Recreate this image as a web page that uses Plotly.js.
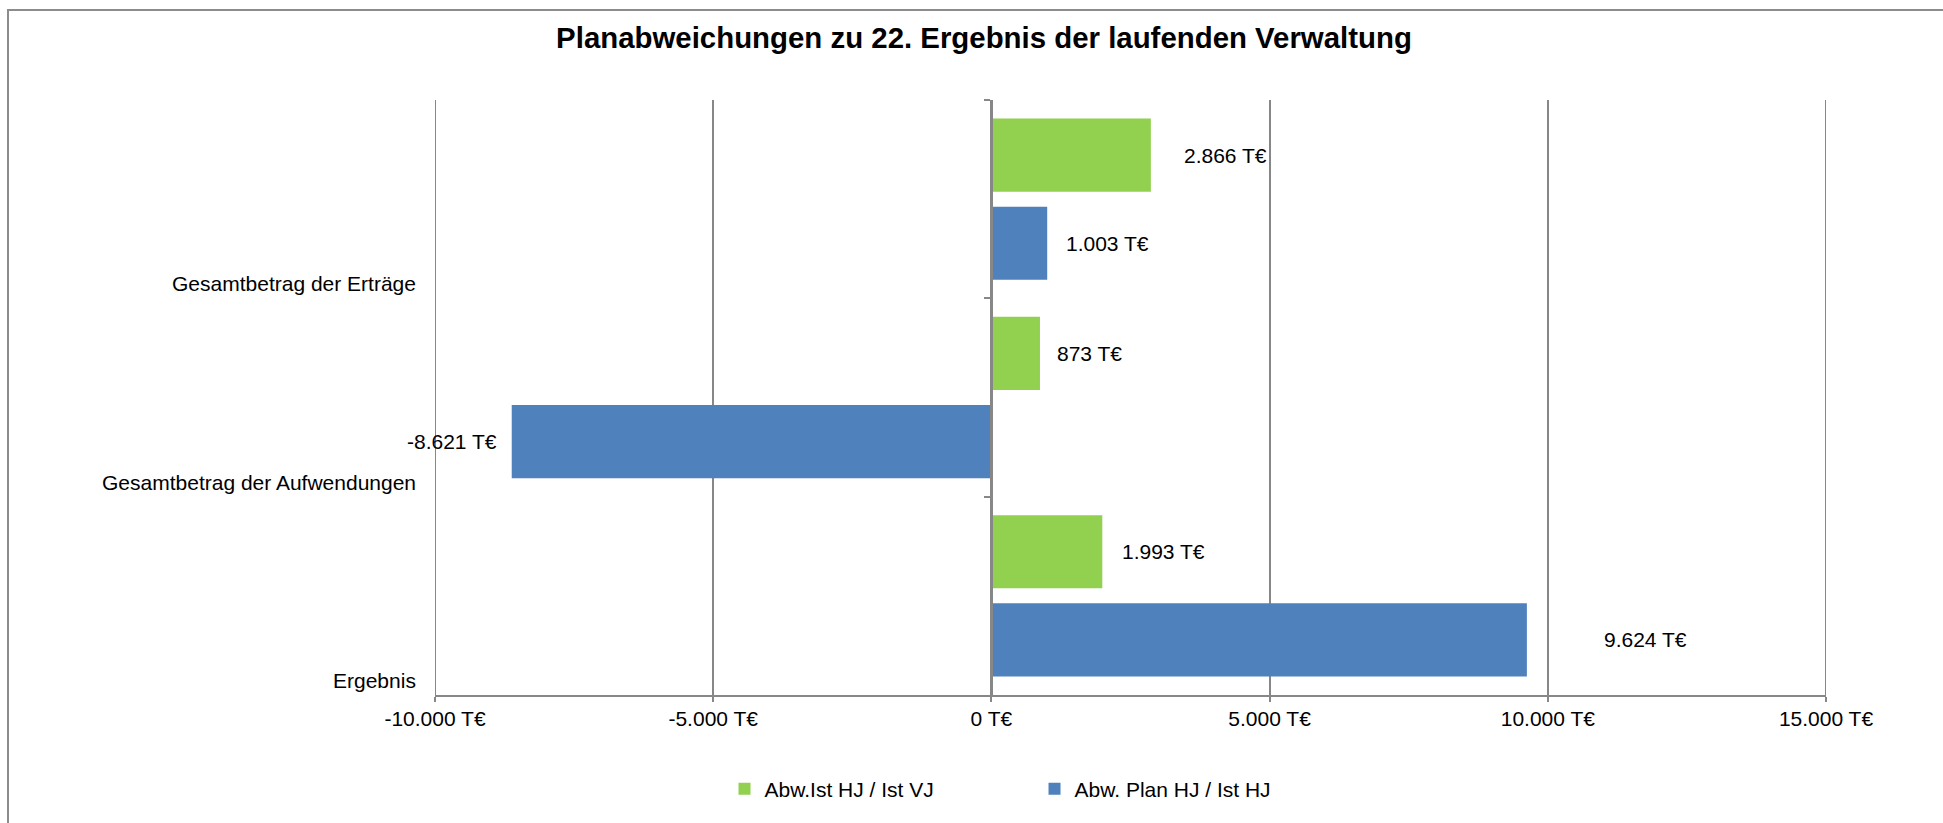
<!DOCTYPE html>
<html>
<head>
<meta charset="utf-8">
<script src="https://cdn.plot.ly/plotly-3.0.1.min.js"></script>
<style>
  html, body { margin: 0; padding: 0; background: #ffffff; overflow: hidden; }
  #chart { position: absolute; left: 0; top: 0; width: 1943px; height: 823px; }
  #frame { position: absolute; left: 7px; top: 9px; width: 2000px; height: 900px;
           border-top: 2px solid #8c8c8c; border-left: 2px solid #8c8c8c; pointer-events: none; }
</style>
</head>
<body>
<div id="chart"></div>
<div id="frame"></div>
<script>
// ---- data ----
const categories = ["Gesamtbetrag der Erträge", "Gesamtbetrag der Aufwendungen", "Ergebnis"];
const seriesNames = ["Abw.Ist HJ / Ist VJ", "Abw. Plan HJ / Ist HJ"];
const istVsVorjahr = [2866, 873, 1993];
const planVsIst = [1003, -8621, 9624];
const tickValues = [-10000, -5000, 0, 5000, 10000, 15000];
const tickLabels = ["-10.000 T€", "-5.000 T€", "0 T€", "5.000 T€", "10.000 T€", "15.000 T€"];

// ---- style ----
const colors = ["#92D050", "#4F81BD"];
const gridColor = "#878787";
const labelGapGreen = [31, 15, 18];
const labelGapBlue = [17, 13, 75];
const FONT = "Liberation Sans, Arial, sans-serif";
const W = 1943, H = 823;
const margin = {l: 435, r: 117, t: 100, b: 128};
const bargap = 0.111;

function fmt(v) {
  const s = Math.abs(v).toString().replace(/\B(?=(\d{3})+(?!\d))/g, ".");
  return (v < 0 ? "-" : "") + s + " T€";
}

const traces = [
  {type: "bar", orientation: "h", name: seriesNames[0], y: categories, x: istVsVorjahr,
   marker: {color: colors[0]}, hoverinfo: "x"},
  {type: "bar", orientation: "h", name: seriesNames[1], y: categories, x: planVsIst,
   marker: {color: colors[1]}, hoverinfo: "x"}
];

const plotH = H - margin.t - margin.b;
const band = plotH / categories.length;
const slotShift = band * (1 - bargap) / 4;

const annotations = [];
categories.forEach((c, i) => {
  annotations.push({xref: "paper", yref: "y", x: 0, y: c, xanchor: "right", yanchor: "middle",
    xshift: -17, yshift: -band / 2 + 14.5, text: c, showarrow: false,
    font: {family: FONT, size: 21, color: "#000000"}});
});
[istVsVorjahr, planVsIst].forEach((arr, s) => {
  const gaps = s === 0 ? labelGapGreen : labelGapBlue;
  arr.forEach((v, i) => {
    annotations.push({xref: "x", yref: "y", x: v, y: categories[i],
      xanchor: v < 0 ? "right" : "left", yanchor: "middle",
      xshift: v < 0 ? -gaps[i] : gaps[i], yshift: s === 0 ? slotShift : -slotShift,
      text: fmt(v), showarrow: false, font: {family: FONT, size: 21, color: "#000000"}});
  });
});

// edge gridlines (Plotly omits gridlines at the range boundaries)
const edgeTicks = [tickValues[0], tickValues[tickValues.length - 1]];
const shapes = edgeTicks.map(v => ({type: "line", xref: "x", yref: "paper", x0: v, x1: v, y0: 0, y1: 1,
  layer: "below", line: {color: gridColor, width: 2}}));

const layout = {
  width: W, height: H,
  margin: margin,
  paper_bgcolor: "#ffffff", plot_bgcolor: "#ffffff",
  font: {family: FONT, size: 21, color: "#000000"},
  title: {text: "<b>Planabweichungen zu 22. Ergebnis der laufenden Verwaltung</b>",
          xref: "container", x: 984 / W, xanchor: "center",
          yref: "container", y: 1 - 38 / H, yanchor: "middle",
          font: {family: FONT, size: 29.4, color: "#000000"}},
  barmode: "group", bargap: bargap, bargroupgap: 0.17,
  showlegend: true,
  legend: {orientation: "h", x: 0.431, xanchor: "center", y: -0.158, yanchor: "middle",
           font: {family: FONT, size: 21, color: "#000000"}, entrywidth: 265, traceorder: "normal"},
  xaxis: {range: [-10000, 15000], tickvals: tickValues, ticktext: tickLabels,
          showgrid: true, gridcolor: gridColor, gridwidth: 2, zeroline: false,
          showline: true, linecolor: gridColor, linewidth: 2,
          ticks: "outside", ticklen: 5, tickwidth: 2, tickcolor: gridColor,
          ticklabelstandoff: -1,
          tickfont: {family: FONT, size: 21, color: "#000000"}, fixedrange: true},
  yaxis: {type: "category", categoryorder: "array", categoryarray: categories,
          range: [2.5, -0.5], anchor: "free", position: 0.4,
          showgrid: false, zeroline: false, showline: true, linecolor: gridColor, linewidth: 3,
          ticks: "outside", tickson: "boundaries", ticklen: 6, tickwidth: 2, tickcolor: gridColor,
          showticklabels: false, fixedrange: true},
  shapes: shapes,
  annotations: annotations
};

Plotly.newPlot("chart", traces, layout, {displayModeBar: false, staticPlot: true});
</script>
</body>
</html>
